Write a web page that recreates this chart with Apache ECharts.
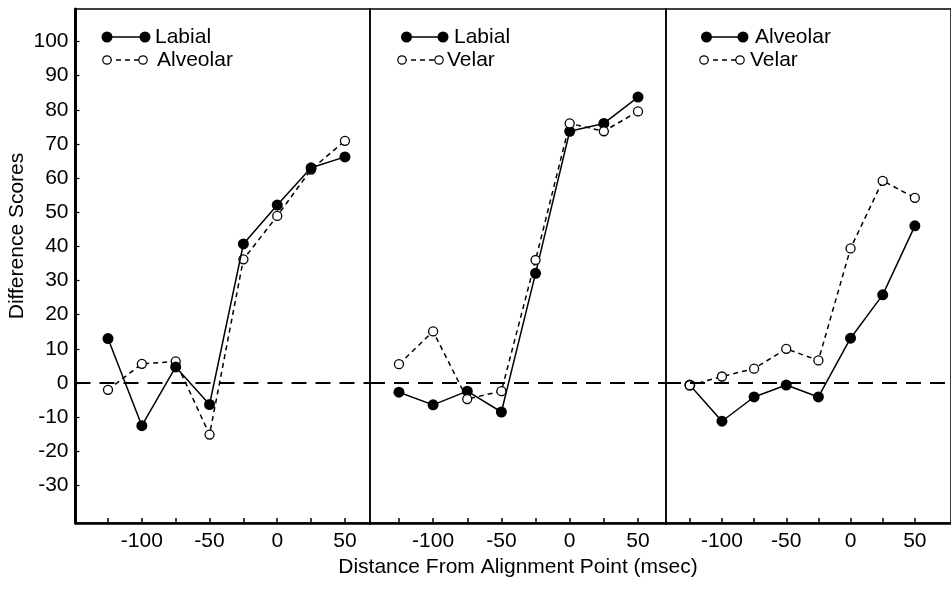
<!DOCTYPE html>
<html>
<head>
<meta charset="utf-8">
<script src="https://cdn.jsdelivr.net/npm/echarts@6/dist/echarts.min.js"></script>
<style>
  html, body { margin: 0; padding: 0; background: #fff; }
  #chart { width: 951px; height: 589px; }
</style>
</head>
<body>
<div id="chart"></div>
<script>
// ─── Data ────────────────────────────────────────
const xValues = [-125, -100, -75, -50, -25, 0, 25, 50];

const labialA   = [13, -12.5, 4.7, -6.3, 40.7, 52.1, 63, 66.2];
const alveolarA = [-2, 5.6, 6.3, -15.1, 36.2, 48.9, 62.5, 70.9];

const labialB = [-2.7, -6.4, -2.4, -8.5, 32.1, 73.7, 76, 83.7];
const velarB  = [5.5, 15.1, -4.7, -2.4, 36, 76, 73.7, 79.5];

const alveolarC = [-0.6, -11.2, -4.1, -0.6, -4.1, 13.1, 25.8, 46];
const velarC    = [-0.7, 1.9, 4.2, 10, 6.6, 39.4, 59.2, 54.2];

const xTicks  = [-125, -100, -75, -50, -25, 0, 25, 50];
const xLabels = [-100, -50, 0, 50];
const yLabels = [-30, -20, -10, 0, 10, 20, 30, 40, 50, 60, 70, 80, 90, 100];

const panelNames = [['Labial', 'Alveolar'], ['Labial', 'Velar'], ['Alveolar', 'Velar']];

// ─── Chart ───────────────────────────────────────
const FONT = "'Liberation Sans', Arial, Helvetica, sans-serif";
const chart = echarts.init(document.getElementById('chart'), null, { renderer: 'canvas' });

const pairs = vals => xValues.map((x, i) => [x, vals[i]]);

// panel geometry (pixels) and x ranges
const panels = [
  { left: 75.5, width: 294.5, min: -149, max: 68.5 },
  { left: 370, width: 296, min: -146.2, max: 70.5 },
  { left: 666, width: 300, min: -143.5, max: 78.1 }
];

const grids = panels.map(p => ({
  left: p.left, top: 9, width: p.width, height: 514,
  show: true, borderColor: '#000', borderWidth: 1.5, backgroundColor: 'transparent'
}));

const xAxes = panels.map((p, i) => ({
  type: 'value', gridIndex: i, min: p.min, max: p.max,
  axisLine: { show: true, onZero: false, lineStyle: { color: '#000', width: 2.5 } },
  axisTick: { show: true, inside: true, length: 5, customValues: xTicks, lineStyle: { color: '#000', width: 1.5 } },
  axisLabel: { show: true, customValues: xLabels, margin: 8, color: '#000', fontSize: 21, fontFamily: FONT },
  splitLine: { show: false },
  name: i === 1 ? 'Distance From Alignment Point (msec)' : '',
  nameLocation: 'middle', nameGap: 33,
  nameTextStyle: { color: '#000', fontSize: 21, fontFamily: FONT }
}));

const yAxes = panels.map((p, i) => ({
  type: 'value', gridIndex: i, min: -41, max: 109.5,
  axisLine: { show: i === 0, onZero: false, lineStyle: { color: '#000', width: 3 } },
  axisTick: { show: i === 0, inside: true, length: 4, customValues: yLabels, lineStyle: { color: '#000', width: 1.2 } },
  axisLabel: { show: i === 0, customValues: yLabels, margin: 7, color: '#000', fontSize: 21, fontFamily: FONT },
  splitLine: { show: false },
  name: i === 0 ? 'Difference Scores' : '',
  nameLocation: 'middle', nameGap: 48,
  nameTextStyle: { color: '#000', fontSize: 21, fontFamily: FONT, padding: [0, 0, 0, 60] }
}));

function solid(name, vals, idx, z) {
  return {
    name, type: 'line', xAxisIndex: idx, yAxisIndex: idx, data: pairs(vals), z,
    symbol: 'circle', symbolSize: 11,
    itemStyle: { color: '#000', borderColor: '#000', borderWidth: 0 },
    lineStyle: { color: '#000', width: 1.5 }
  };
}

function dashed(name, vals, idx, z) {
  return {
    name, type: 'line', xAxisIndex: idx, yAxisIndex: idx, data: pairs(vals), z,
    symbol: 'circle', symbolSize: 9,
    itemStyle: { color: '#fff', borderColor: '#000', borderWidth: 1.3 },
    lineStyle: { color: '#000', width: 1.5, type: [5, 4] }
  };
}

const zeroLine = {
  silent: true, symbol: ['none', 'none'],
  label: { show: false },
  lineStyle: { color: '#000', width: 1.8, type: [15, 9] },
  data: [{ yAxis: 0 }]
};

const series = [
  dashed('Alveolar', alveolarA, 0, 2),
  solid('Labial', labialA, 0, 3),
  solid('Labial', labialB, 1, 2),
  dashed('Velar', velarB, 1, 3),
  solid('Alveolar', alveolarC, 2, 2),
  dashed('Velar', velarC, 2, 3)
];
[0, 2, 4].forEach(i => { series[i].markLine = zeroLine; });

// legend drawn as graphics: circle — circle  label
function legendRow(x1, x2, y, textX, label, filled) {
  const dot = cx => ({
    type: 'circle', shape: { cx, cy: y, r: filled ? 5.5 : 4.2 },
    style: filled ? { fill: '#000' } : { fill: '#fff', stroke: '#000', lineWidth: 1.2 }, z: 10
  });
  return [
    { type: 'line', shape: { x1, y1: y, x2, y2: y },
      style: { stroke: '#000', lineWidth: 1.5, lineDash: filled ? null : [5, 4] }, z: 9 },
    dot(x1), dot(x2),
    { type: 'text', x: textX, y, z: 10,
      style: { text: label, fill: '#000', fontSize: 21, fontFamily: FONT, verticalAlign: 'middle', align: 'left' } }
  ];
}

const legendPos = [
  { row1: [107, 145, 155], row2: [107, 143, 157] },
  { row1: [406.5, 443, 454], row2: [402, 439, 447] },
  { row1: [706.5, 743, 755], row2: [704, 740, 750] }
];

const graphics = [];
legendPos.forEach((lp, i) => {
  graphics.push(...legendRow(lp.row1[0], lp.row1[1], 37, lp.row1[2], panelNames[i][0], true));
  graphics.push(...legendRow(lp.row2[0], lp.row2[1], 60, lp.row2[2], panelNames[i][1], false));
});

chart.setOption({
  animation: false,
  backgroundColor: '#fff',
  grid: grids,
  xAxis: xAxes,
  yAxis: yAxes,
  series,
  graphic: graphics
});
</script>
</body>
</html>
